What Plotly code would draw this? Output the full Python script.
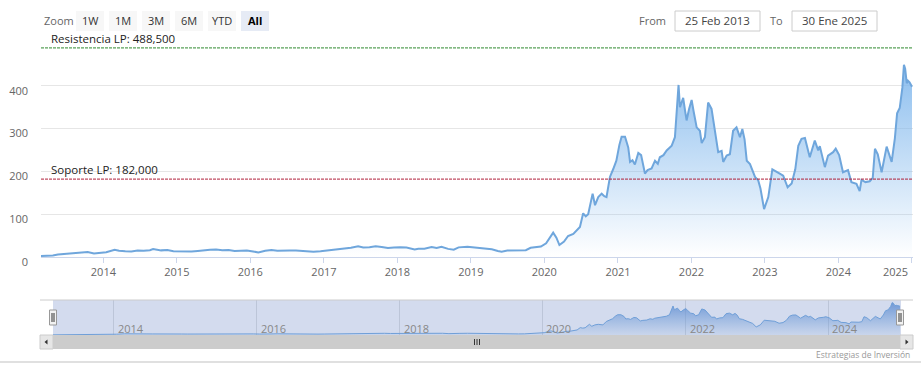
import plotly.graph_objects as go

W, H = 921, 376

# ---------------- data ----------------
dates = [
    "2013-02-25", "2013-03-25", "2013-04-25", "2013-05-20", "2013-06-20", "2013-07-20",
    "2013-08-20", "2013-09-20", "2013-10-15", "2013-11-15", "2013-12-15",
    "2014-01-15", "2014-02-26", "2014-03-20", "2014-04-20", "2014-05-20", "2014-06-20",
    "2014-07-20", "2014-08-20", "2014-09-05", "2014-10-15", "2014-11-15", "2014-12-15",
    "2015-01-15", "2015-02-15", "2015-03-15", "2015-04-15", "2015-05-15", "2015-06-15",
    "2015-07-15", "2015-08-15", "2015-09-15", "2015-10-15", "2015-11-15", "2015-12-15",
    "2016-01-15", "2016-02-10", "2016-03-15", "2016-04-15", "2016-05-15", "2016-06-15",
    "2016-07-15", "2016-08-15", "2016-09-15", "2016-10-15", "2016-11-10", "2016-12-15",
    "2017-01-15", "2017-02-15", "2017-03-15", "2017-04-15", "2017-05-15", "2017-06-20",
    "2017-07-15", "2017-08-15", "2017-09-15", "2017-10-15", "2017-11-15", "2017-12-15",
    "2018-01-15", "2018-02-15", "2018-03-28", "2018-04-15", "2018-05-15", "2018-06-20",
    "2018-07-15", "2018-08-08", "2018-09-10", "2018-10-08", "2018-11-01", "2018-12-15",
    "2019-01-15", "2019-02-15", "2019-03-15", "2019-04-15", "2019-05-15", "2019-06-03",
    "2019-07-01", "2019-08-01", "2019-09-01", "2019-10-01", "2019-10-25", "2019-11-20",
    "2019-12-15",
    "2020-01-10", "2020-02-03", "2020-02-14", "2020-03-01", "2020-03-16", "2020-04-08",
    "2020-04-28", "2020-05-24", "2020-06-10", "2020-06-26", "2020-07-12", "2020-07-25",
    "2020-08-06", "2020-08-28", "2020-09-09", "2020-09-25", "2020-10-12", "2020-10-25",
    "2020-11-05", "2020-11-22", "2020-12-08", "2020-12-24",
    "2021-01-08", "2021-01-19", "2021-02-05", "2021-02-21", "2021-03-02", "2021-03-14",
    "2021-03-26", "2021-04-12", "2021-04-26", "2021-05-15", "2021-05-28", "2021-06-17",
    "2021-07-04", "2021-07-18", "2021-07-28", "2021-08-15", "2021-08-31", "2021-09-25",
    "2021-10-11", "2021-10-19", "2021-10-29", "2021-11-05", "2021-11-12", "2021-11-21",
    "2021-12-01", "2021-12-08", "2021-12-20",
    "2022-01-02", "2022-01-12", "2022-01-27", "2022-02-12", "2022-02-21", "2022-03-09",
    "2022-03-25", "2022-04-11", "2022-04-27", "2022-05-14", "2022-05-31", "2022-06-08",
    "2022-06-25", "2022-07-11", "2022-07-27", "2022-08-13", "2022-08-30", "2022-09-11",
    "2022-09-22", "2022-10-03", "2022-10-19", "2022-11-13", "2022-11-29", "2022-12-10",
    "2022-12-28",
    "2023-01-18", "2023-02-07", "2023-02-28", "2023-03-16", "2023-04-02", "2023-04-24",
    "2023-05-14", "2023-06-01", "2023-06-16", "2023-07-02", "2023-07-19", "2023-08-12",
    "2023-09-06", "2023-09-23", "2023-10-01", "2023-10-26", "2023-11-11", "2023-12-06",
    "2023-12-19",
    "2024-01-05", "2024-01-24", "2024-02-18", "2024-03-06", "2024-03-31", "2024-04-16",
    "2024-04-25", "2024-05-15", "2024-06-05", "2024-06-20", "2024-07-01", "2024-07-15",
    "2024-08-03", "2024-08-28", "2024-09-22", "2024-10-08", "2024-10-19", "2024-11-01",
    "2024-11-14", "2024-11-22", "2024-11-28", "2024-12-06", "2024-12-12", "2024-12-20",
    "2025-01-01",
]
prices = [
    2.3, 2.6, 3.5, 5.8, 7.0, 8.5,
    10.0, 12.2, 11.5, 8.3, 9.5,
    11.0, 16.8, 14.5, 13.5, 13.0, 15.0,
    14.5, 16.0, 18.5, 15.5, 16.5, 13.7,
    13.0, 14.0, 12.8, 14.0, 16.0, 16.8,
    17.5, 16.0, 16.5, 14.0, 14.8, 15.3,
    13.0, 10.5, 14.5, 16.5, 14.5, 14.0,
    15.0, 15.0, 13.5, 13.5, 12.5, 13.5,
    15.0, 17.5, 17.5, 20.0, 21.5, 25.0,
    22.0, 23.0, 25.0, 23.5, 21.0, 22.0,
    23.0, 22.0, 17.5, 19.0, 19.5, 23.5,
    21.0, 24.0, 19.0, 17.0, 22.5, 24.0,
    22.0, 20.5, 18.5, 18.0, 14.0, 12.5,
    15.0, 15.5, 15.0, 16.0, 21.5, 23.0,
    24.5,
    32.0, 50.0, 57.0, 45.0, 28.0, 36.0,
    49.0, 54.0, 62.0, 70.0, 102, 95,
    100, 148, 121, 140, 148, 142,
    140, 187, 205, 225,
    262, 281, 281, 256, 222, 226,
    216, 243, 238, 195, 203, 207,
    225, 218, 233, 238, 249, 260,
    280, 334, 402, 350, 362, 372,
    340, 319, 345,
    367, 340, 303, 295, 266, 280,
    361, 346, 300, 245, 248, 222,
    237, 240, 295, 303, 280, 299,
    275, 225, 217, 187, 179, 160,
    112,
    140, 205, 200, 195, 190, 163,
    172, 205, 260, 276, 278, 233,
    272, 249, 259, 210, 237, 245,
    253,
    238, 198, 203, 175, 171, 154,
    180, 175, 177, 185, 253, 240,
    198, 258, 222, 278, 336, 348,
    395, 449, 440, 406, 412, 408,
    398,
]

y_ticks = [0, 100, 200, 300, 400]
x_years = ["2014", "2015", "2016", "2017", "2018", "2019", "2020",
           "2021", "2022", "2023", "2024", "2025"]
nav_years = ["2014", "2016", "2018", "2020", "2022", "2024"]
resistance_value = 488.5
resistance_label = "Resistencia LP: 488,500"
support_value = 182.0
support_label = "Soporte LP: 182,000"
zoom_buttons = ["1W", "1M", "3M", "6M", "YTD", "All"]
from_label, from_value = "From", "25 Feb 2013"
to_label, to_value = "To", "30 Ene 2025"
credit_text = "Estrategias de Inversión"

x_start, x_end = "2013-02-25", "2025-01-06"

FONT = "Open Sans, Noto Sans, sans-serif"


def px(x):
    return x / W


def py(y):
    return 1 - y / H


fig = go.Figure()

# main area series
fig.add_trace(go.Scatter(
    x=dates, y=prices, mode="lines",
    line=dict(color="#6fa6dc", width=2),
    fill="tozeroy",
    fillgradient=dict(type="vertical",
                      colorscale=[[0, "rgba(124,181,236,0.0)"], [1, "rgba(124,181,236,0.88)"]],
                      start=0, stop=450),
    hoverinfo="skip", showlegend=False,
))

# navigator series
fig.add_trace(go.Scatter(
    x=dates, y=prices, mode="lines", xaxis="x2", yaxis="y2",
    line=dict(color="#6f9fd8", width=1),
    fill="tozeroy",
    fillgradient=dict(type="vertical",
                      colorscale=[[0, "rgba(111,159,216,0.1)"], [1, "rgba(95,140,210,0.85)"]],
                      start=0, stop=450),
    hoverinfo="skip", showlegend=False,
))

shapes = []
annotations = []

# navigator background mask
shapes.append(dict(type="rect", xref="paper", yref="paper",
                   x0=px(53), x1=px(901), y0=py(335), y1=py(300),
                   fillcolor="#d3dbee", line=dict(width=0), layer="below"))
# navigator outline top
shapes.append(dict(type="line", xref="paper", yref="paper",
                   x0=px(40), x1=px(913), y0=py(300), y1=py(300),
                   line=dict(color="#cccccc", width=1)))

# scrollbar
shapes.append(dict(type="rect", xref="paper", yref="paper",
                   x0=px(40), x1=px(913), y0=py(349), y1=py(335),
                   fillcolor="#cccccc", line=dict(width=0)))
for bx0, bx1 in [(40, 53), (900, 913)]:
    shapes.append(dict(type="rect", xref="paper", yref="paper",
                       x0=px(bx0), x1=px(bx1), y0=py(349), y1=py(335),
                       fillcolor="#e6e6e6", line=dict(color="#cccccc", width=1)))
shapes.append(dict(type="path", xref="paper", yref="paper",
                   path=f"M {px(47.5)} {py(339.5)} L {px(44.5)} {py(342)} L {px(47.5)} {py(344.5)} Z",
                   fillcolor="#333333", line=dict(width=0)))
shapes.append(dict(type="path", xref="paper", yref="paper",
                   path=f"M {px(905.5)} {py(339.5)} L {px(908.5)} {py(342)} L {px(905.5)} {py(344.5)} Z",
                   fillcolor="#333333", line=dict(width=0)))
for gx in (474.5, 477, 479.5):
    shapes.append(dict(type="line", xref="paper", yref="paper",
                       x0=px(gx), x1=px(gx), y0=py(339), y1=py(345),
                       line=dict(color="#333333", width=1)))

# navigator handles
for hx in (53, 900):
    shapes.append(dict(type="rect", xref="paper", yref="paper",
                       x0=px(hx - 3.5), x1=px(hx + 3.5), y0=py(325), y1=py(310),
                       fillcolor="#f2f2f2", line=dict(color="#999999", width=1)))
    for lx in (hx - 1, hx + 1):
        shapes.append(dict(type="line", xref="paper", yref="paper",
                           x0=px(lx), x1=px(lx), y0=py(313), y1=py(322),
                           line=dict(color="#333333", width=1)))

# bottom separator
shapes.append(dict(type="line", xref="paper", yref="paper",
                   x0=0, x1=1, y0=py(362), y1=py(362),
                   line=dict(color="#d6d6d6", width=1.5)))

# plot lines (resistance / support)
shapes.append(dict(type="line", xref="x domain", yref="y", x0=0, x1=1,
                   y0=resistance_value, y1=resistance_value,
                   line=dict(color="#2f8a2f", width=1, dash="3px,1px")))
shapes.append(dict(type="line", xref="x domain", yref="y", x0=0, x1=1,
                   y0=support_value, y1=support_value,
                   line=dict(color="#b01f3a", width=1, dash="3px,1px")))
annotations.append(dict(text=resistance_label, xref="paper", yref="y",
                        x=px(49), y=resistance_value, xanchor="left", yanchor="bottom",
                        showarrow=False, font=dict(size=11.5, color="#222222", family=FONT)))
annotations.append(dict(text=support_label, xref="paper", yref="y",
                        x=px(49), y=support_value, xanchor="left", yanchor="bottom",
                        showarrow=False, font=dict(size=11.5, color="#222222", family=FONT)))

# last x label (justified inside the chart, as in the reference)
annotations.append(dict(text=x_years[-1], xref="paper", yref="paper", x=px(910), y=py(271),
                        xanchor="right", yanchor="middle", showarrow=False,
                        font=dict(size=11, color="#666666", family=FONT)))

# range selector
annotations.append(dict(text="Zoom", xref="paper", yref="paper", x=px(42), y=py(20.5),
                        xanchor="left", yanchor="middle", showarrow=False,
                        font=dict(size=11, color="#666666", family=FONT)))
for i, lab in enumerate(zoom_buttons):
    bx0 = 76 + 33 * i
    active = lab == "All"
    shapes.append(dict(type="rect", xref="paper", yref="paper",
                       x0=px(bx0), x1=px(bx0 + 28), y0=py(31), y1=py(11),
                       fillcolor="#e6ebf5" if active else "#f7f7f7", line=dict(width=0)))
    annotations.append(dict(text=f"<b>{lab}</b>" if active else lab, xref="paper", yref="paper",
                            x=px(bx0 + 14), y=py(20.5), xanchor="center", yanchor="middle",
                            showarrow=False,
                            font=dict(size=11, color="#000000" if active else "#333333", family=FONT)))

for lab, lx, val, bx0, bx1 in [(from_label, 668, from_value, 675, 760),
                                (to_label, 785, to_value, 792, 877)]:
    annotations.append(dict(text=lab, xref="paper", yref="paper", x=px(lx), y=py(20.5),
                            xanchor="right", yanchor="middle", showarrow=False,
                            font=dict(size=11, color="#666666", family=FONT)))
    shapes.append(dict(type="rect", xref="paper", yref="paper",
                       x0=px(bx0), x1=px(bx1), y0=py(31), y1=py(11),
                       fillcolor="white", line=dict(color="#cccccc", width=1)))
    annotations.append(dict(text=val, xref="paper", yref="paper", x=px((bx0 + bx1) / 2), y=py(20.5),
                            xanchor="center", yanchor="middle", showarrow=False,
                            font=dict(size=11.5, color="#444444", family=FONT)))

# navigator year labels
for yr in nav_years:
    annotations.append(dict(text=yr, xref="x2", yref="paper", x=f"{yr}-01-01", y=py(328.5),
                            xanchor="left", yanchor="middle", xshift=2, showarrow=False,
                            font=dict(size=11, color="#888888", family=FONT)))

# credits
annotations.append(dict(text=credit_text, xref="paper", yref="paper", x=px(912), y=py(354),
                        xanchor="right", yanchor="middle", showarrow=False,
                        font=dict(size=8.5, color="#999999", family=FONT)))

fig.update_layout(
    template="none",
    width=W, height=H, autosize=False,
    margin=dict(l=0, r=0, t=0, b=0, pad=0, autoexpand=False),
    paper_bgcolor="white", plot_bgcolor="rgba(0,0,0,0)",
    font=dict(family=FONT, color="#666666"),
    showlegend=False,
    xaxis=dict(domain=[px(41), px(913)], range=[x_start, x_end], type="date",
               tickvals=[f"{y}-01-01" for y in x_years],
               ticktext=x_years[:-1] + [""], automargin=False,
               showgrid=False, zeroline=False, showline=True, linecolor="#ccd6eb", linewidth=1,
               ticks="outside", ticklen=5, tickcolor="#ccd6eb", tickwidth=1,
               ticklabelstandoff=0,
               tickfont=dict(size=11, color="#666666"), anchor="y"),
    yaxis=dict(domain=[py(257), py(43)], range=[0, 500], tickvals=y_ticks, automargin=False,
               showgrid=True, gridcolor="#e6e6e6", gridwidth=1, zeroline=False, showline=False,
               ticks="", tickfont=dict(size=11, color="#666666"),
               ticklabelshift=5, ticklabelstandoff=12, anchor="x"),
    xaxis2=dict(domain=[px(53), px(901)], range=[x_start, x_end], type="date", automargin=False,
                dtick="M24", tick0="2014-01-01", showticklabels=False,
                showgrid=True, gridcolor="#bcc5d8", gridwidth=1, zeroline=False, showline=False,
                ticks="", anchor="y2"),
    yaxis2=dict(domain=[py(335), py(300)], range=[0, 485], showticklabels=False, automargin=False,
                showgrid=False, zeroline=False, showline=False, ticks="", anchor="x2"),
    shapes=shapes, annotations=annotations,
)

fig.write_html("out.html", config={"displayModeBar": False},
               post_script="document.body.style.margin='0';document.body.style.padding='0';")
